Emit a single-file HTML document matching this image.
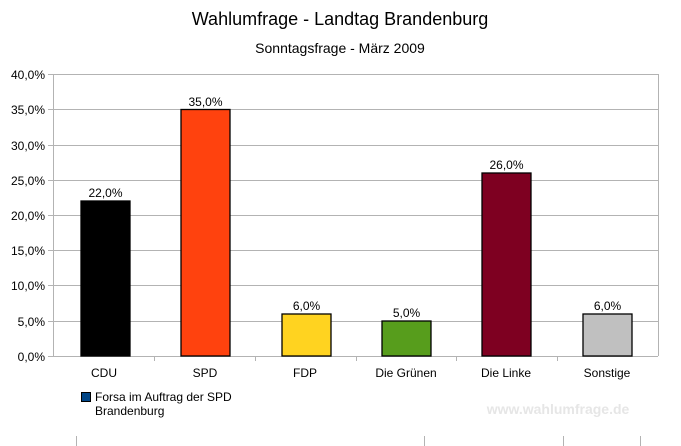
<!DOCTYPE html>
<html><head><meta charset="utf-8"><style>html,body{margin:0;padding:0;background:#fff}svg{display:block}text{font-family:"Liberation Sans",Arial,sans-serif}</style></head>
<body>
<svg width="681" height="446" viewBox="0 0 681 446" xmlns="http://www.w3.org/2000/svg">
<rect width="681" height="446" fill="#fff"/>
<text x="340" y="25" font-size="18" text-anchor="middle" fill="#000">Wahlumfrage - Landtag Brandenburg</text>
<text x="340" y="53" font-size="14" text-anchor="middle" fill="#000">Sonntagsfrage - März 2009</text>
<g stroke="#b3b3b3" stroke-width="1">
<line x1="48" y1="74.5" x2="658" y2="74.5"/>
<line x1="48" y1="109.5" x2="658" y2="109.5"/>
<line x1="48" y1="145.5" x2="658" y2="145.5"/>
<line x1="48" y1="180.5" x2="658" y2="180.5"/>
<line x1="48" y1="215.5" x2="658" y2="215.5"/>
<line x1="48" y1="250.5" x2="658" y2="250.5"/>
<line x1="48" y1="285.5" x2="658" y2="285.5"/>
<line x1="48" y1="321.5" x2="658" y2="321.5"/>
<line x1="48" y1="356.5" x2="658" y2="356.5"/>
<line x1="53.5" y1="74" x2="53.5" y2="356"/>
<line x1="658.5" y1="74" x2="658.5" y2="356"/>
<line x1="154.5" y1="356" x2="154.5" y2="361"/>
<line x1="255.5" y1="356" x2="255.5" y2="361"/>
<line x1="356.5" y1="356" x2="356.5" y2="361"/>
<line x1="456.5" y1="356" x2="456.5" y2="361"/>
<line x1="557.5" y1="356" x2="557.5" y2="361"/>
<line x1="76.5" y1="436" x2="76.5" y2="446"/>
<line x1="424.5" y1="436" x2="424.5" y2="446"/>
<line x1="563.5" y1="436" x2="563.5" y2="446"/>
<line x1="640.5" y1="436" x2="640.5" y2="446"/>
</g>
<g font-size="12" text-anchor="end" fill="#000">
<text x="45" y="79">40,0%</text><text x="45" y="114">35,0%</text><text x="45" y="150">30,0%</text><text x="45" y="185">25,0%</text><text x="45" y="220">20,0%</text><text x="45" y="255">15,0%</text><text x="45" y="290">10,0%</text><text x="45" y="326">5,0%</text><text x="45" y="361">0,0%</text>
</g>
<g stroke="#000" stroke-width="1.3">
<rect x="81" y="201" width="49" height="155" fill="#000"/>
<rect x="181" y="109.5" width="49" height="246.5" fill="#ff420e"/>
<rect x="282" y="314" width="49" height="42" fill="#ffd320"/>
<rect x="382" y="321" width="49" height="35" fill="#579d1c"/>
<rect x="482" y="173" width="49" height="183" fill="#7e0021"/>
<rect x="583" y="314" width="49" height="42" fill="#c0c0c0"/>
</g>
<g font-size="12" text-anchor="middle" fill="#000">
<text x="105.5" y="197">22,0%</text><text x="205.5" y="106">35,0%</text><text x="306.5" y="310">6,0%</text><text x="406.5" y="317">5,0%</text><text x="506.5" y="169">26,0%</text><text x="607.5" y="310">6,0%</text>
<text x="104" y="377">CDU</text><text x="205" y="377">SPD</text><text x="305" y="377">FDP</text><text x="406" y="377">Die Grünen</text><text x="506" y="377">Die Linke</text><text x="607" y="377">Sonstige</text>
</g>
<rect x="81.5" y="392.5" width="9" height="9" fill="#004586" stroke="#000"/>
<text x="95" y="401" font-size="12">Forsa im Auftrag der SPD</text>
<text x="95" y="415" font-size="12">Brandenburg</text>
<text x="558" y="414" font-size="14" font-weight="bold" text-anchor="middle" fill="#e6e6e6">www.wahlumfrage.de</text>
</svg>
</body></html>
